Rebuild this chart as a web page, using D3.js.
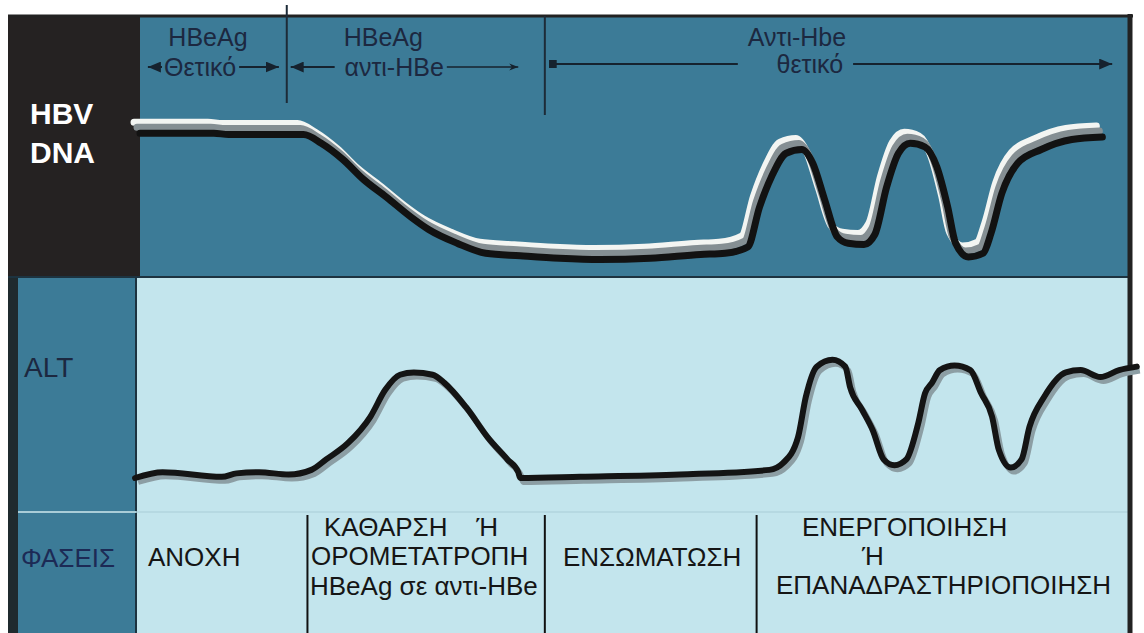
<!DOCTYPE html>
<html>
<head>
<meta charset="utf-8">
<script src="https://cdnjs.cloudflare.com/ajax/libs/d3/7.8.5/d3.min.js"></script>
<style>
body{margin:0;background:#fff}
svg{display:block}
text{font-family:"Liberation Sans",Arial,sans-serif}
</style>
</head>
<body>
<div id="chart"></div>
<script>
// time axis runs 0..100 across the panels, levels 0..100 (relative)
var hbvTime  = [0, 7.5, 9.0, 16.6, 18.4, 20.6, 22.7, 25.0, 27.5, 29.3, 32.2, 35.1, 38.6, 42.6, 46.7, 51.8, 56.9, 59.4,
                61.7, 62.9, 64.1, 65.6, 67.2, 68.3, 69.5, 70.8, 71.9, 73.5, 74.6, 75.8, 77.0, 78.2, 79.7, 80.9, 82.0,
                82.8, 84.1, 85.6, 86.4, 87.5, 89.1, 91.5, 94.6, 97.7];
var hbvLevel = [103, 103, 102, 102, 95, 82, 66, 52, 36, 26, 15, 7, 5, 3, 2, 3, 6, 7,
                12, 44, 68, 87, 90, 79, 50, 20, 15, 14, 22, 60, 87, 95, 92, 76, 44,
                15, 4, 7, 23, 55, 79, 90, 98, 100];

var altTime  = [-0.5, 2.3, 8.3, 9.8, 12.1, 15.1, 17.4, 18.9, 21.1, 23.4, 24.9, 26.4, 27.8, 29.7, 30.9, 33.1, 35.3, 37.3, 38.4,
                38.6, 44.7, 54.8, 63.9, 65.3, 66.8, 67.6, 68.7, 70.3, 71.6, 72.1, 73.3, 74.4, 75.5, 76.6, 77.8, 79.0, 79.7,
                80.4, 81.2, 82.7, 84.3, 85.4, 86.5, 87.2, 88.4, 89.5, 90.3, 91.8, 94.0, 95.5, 97.5, 99.4, 101.2];
var altLevel = [0, 5, 1, 4, 5, 3, 7, 16, 30, 53, 76, 89, 91, 89, 82, 61, 35, 16, 5,
                0, 1, 3, 7, 13, 35, 70, 96, 102, 96, 78, 59, 41, 16, 11, 16, 47, 73,
                82, 93, 97, 93, 73, 53, 24, 9, 16, 44, 70, 91, 93, 87, 93, 96];

// serology segments across the top
var seroStart  = [0, 14.9, 41.1];
var seroTop    = ["HBeAg", "HBeAg", "Αντι-Hbe"];
var seroBottom = ["Θετικό", "αντι-HBe", "θετικό"];

// phases across the bottom
var phaseStart = [0, 17.0, 41.1, 62.6];
var phaseNames = [["ΑΝΟΧΗ"],
                  ["ΚΑΘΑΡΣΗ    Ή", "ΟΡΟΜΕΤΑΤΡΟΠΗ", "HBeAg σε αντι-HBe"],
                  ["ΕΝΣΩΜΑΤΩΣΗ"],
                  ["ΕΝΕΡΓΟΠΟΙΗΣΗ", "Ή", "ΕΠΑΝΑΔΡΑΣΤΗΡΙΟΠΟΙΗΣΗ"]];

var rowLabels = [["HBV", "DNA"], ["ALT"], ["ΦΑΣΕΙΣ"]];

var W = 1144, H = 633;
var dark = "#3c7b97", light = "#c3e5ed", ink = "#1c2840";

var svg = d3.select("#chart").append("svg")
    .attr("width", W).attr("height", H);

var x = d3.scaleLinear().domain([0, 100]).range([140, 1125]);
var yHbv = d3.scaleLinear().domain([0, 100]).range([262, 137]);
var yAlt = d3.scaleLinear().domain([0, 100]).range([478, 362]);

// panels
svg.append("rect").attr("x", 8).attr("y", 16).attr("width", 132).attr("height", 261).attr("fill", "#252222");
svg.append("rect").attr("x", 140).attr("y", 16).attr("width", 988).attr("height", 261).attr("fill", dark);
svg.append("rect").attr("x", 8).attr("y", 277).attr("width", 10).attr("height", 356).attr("fill", "#1f2a2e");
svg.append("rect").attr("x", 18).attr("y", 277).attr("width", 118).attr("height", 356).attr("fill", dark);
svg.append("rect").attr("x", 136).attr("y", 277).attr("width", 992).attr("height", 356).attr("fill", light);

svg.append("line").attr("x1", 136).attr("x2", 136).attr("y1", 277).attr("y2", 633)
    .attr("stroke", "#1d3340").attr("stroke-width", 2);
svg.append("line").attr("x1", 8).attr("x2", 1133).attr("y1", 16).attr("y2", 16)
    .attr("stroke", "#222").attr("stroke-width", 3);
svg.append("line").attr("x1", 8).attr("x2", 1130).attr("y1", 277).attr("y2", 277)
    .attr("stroke", "#1d3340").attr("stroke-width", 2);
svg.append("line").attr("x1", 18).attr("x2", 136).attr("y1", 512).attr("y2", 512)
    .attr("stroke", "#a9cdd8").attr("stroke-width", 2);
svg.append("line").attr("x1", 136).attr("x2", 1128).attr("y1", 512).attr("y2", 512)
    .attr("stroke", "#b2d5de").attr("stroke-width", 1.5);
svg.append("line").attr("x1", 1130).attr("x2", 1130).attr("y1", 14).attr("y2", 633)
    .attr("stroke", "#222").attr("stroke-width", 5);

// row labels
var hl = svg.append("g").attr("font-weight", "bold").attr("font-size", 30).attr("fill", "#fff");
hl.selectAll("text").data(rowLabels[0]).join("text")
    .attr("x", 30).attr("y", function(d, i){ return 124 + i * 39; })
    .text(function(d){ return d; });
svg.append("text").attr("x", 24).attr("y", 377).attr("font-size", 28).attr("fill", ink).text(rowLabels[1][0]);
svg.append("text").attr("x", 21).attr("y", 567).attr("font-size", 26).attr("fill", "#1c2a55").text(rowLabels[2][0]);

// markers
var defs = svg.append("defs");
defs.append("marker").attr("id", "tri").attr("viewBox", "0 0 12 10")
    .attr("refX", 12).attr("refY", 5).attr("markerWidth", 13).attr("markerHeight", 11)
    .attr("markerUnits", "userSpaceOnUse").attr("orient", "auto-start-reverse")
    .append("path").attr("d", "M0,0L12,5L0,10Z").attr("fill", "#16222e");
defs.append("marker").attr("id", "thin").attr("viewBox", "0 0 10 10")
    .attr("refX", 10).attr("refY", 5).attr("markerWidth", 10).attr("markerHeight", 9)
    .attr("markerUnits", "userSpaceOnUse").attr("orient", "auto")
    .append("path").attr("d", "M0,1L10,5L0,9L3,5Z").attr("fill", "#16222e");
defs.append("marker").attr("id", "sq").attr("viewBox", "0 0 8 8")
    .attr("refX", 4).attr("refY", 4).attr("markerWidth", 8).attr("markerHeight", 8)
    .attr("markerUnits", "userSpaceOnUse")
    .append("rect").attr("width", 8).attr("height", 8).attr("fill", "#16222e");

// serology dividers
svg.append("line").attr("x1", x(seroStart[1])).attr("x2", x(seroStart[1])).attr("y1", 5).attr("y2", 103)
    .attr("stroke", "#1d2b38").attr("stroke-width", 2);
svg.append("line").attr("x1", x(seroStart[2])).attr("x2", x(seroStart[2])).attr("y1", 16).attr("y2", 115)
    .attr("stroke", "#1d2b38").attr("stroke-width", 2);

// serology labels and arrows
var topCx = [6.9, 24.7, 66.7], botCx = [6.1, 25.8, 68.0];
var arrowEnd = [14.1, 38.4, 98.7], arrowStart = [0.8, 15.3, 41.9];
var arrowY = [67, 67, 64], leftGap = [2, 9, 10];
var sero = svg.append("g").attr("font-size", 25).attr("fill", ink).attr("text-anchor", "middle");
seroTop.forEach(function(t, i){
    var a = sero.append("text").attr("x", x(topCx[i])).attr("y", 46).text(t);
    var b = sero.append("text").attr("x", x(botCx[i])).attr("y", arrowY[i] + 9).text(seroBottom[i]);
    var la = a.node().getComputedTextLength(), lb = b.node().getComputedTextLength();
    var left = Math.min(x(topCx[i]) - la / 2, x(botCx[i]) - lb / 2) - leftGap[i];
    var right = x(botCx[i]) + lb / 2 + (i == 2 ? 10 : 3);
    svg.append("line").attr("x1", x(arrowStart[i])).attr("x2", left).attr("y1", arrowY[i]).attr("y2", arrowY[i])
        .attr("stroke", "#16222e").attr("stroke-width", 2)
        .attr("marker-start", i == 2 ? "url(#sq)" : "url(#tri)");
    svg.append("line").attr("x1", right).attr("x2", x(arrowEnd[i])).attr("y1", arrowY[i]).attr("y2", arrowY[i])
        .attr("stroke", "#16222e").attr("stroke-width", i == 1 ? 1.5 : 2)
        .attr("marker-end", i == 1 ? "url(#thin)" : "url(#tri)");
});

// HBV DNA curve: white, grey and black strands
var hbv = hbvTime.map(function(t, i){ return [t, hbvLevel[i]]; });
var hbvLine = d3.line().x(function(d){ return x(d[0]); }).y(function(d){ return yHbv(d[1]); })
    .curve(d3.curveMonotoneX);
var strands = [{dx: -6, dy: -11, c: "#f3f5f2"}, {dx: -3, dy: -6, c: "#858f93"}, {dx: 0, dy: 0, c: "#121212"}];
svg.append("g").selectAll("path").data(strands).join("path")
    .attr("transform", function(s){ return "translate(" + s.dx + "," + s.dy + ")"; })
    .attr("d", hbvLine(hbv))
    .attr("fill", "none").attr("stroke", function(s){ return s.c; })
    .attr("stroke-width", 7).attr("stroke-linejoin", "round").attr("stroke-linecap", "round");

// ALT curve with shadow
var alt = altTime.map(function(t, i){ return [t, altLevel[i]]; });
var altLine = d3.line().x(function(d){ return x(d[0]); }).y(function(d){ return yAlt(d[1]); })
    .curve(d3.curveMonotoneX);
svg.append("path").attr("d", altLine(alt)).attr("transform", "translate(3,4)")
    .attr("fill", "none").attr("stroke", "#8c9ea4").attr("stroke-width", 6).attr("stroke-linejoin", "round");
svg.append("path").attr("d", altLine(alt))
    .attr("fill", "none").attr("stroke", "#141414").attr("stroke-width", 6)
    .attr("stroke-linejoin", "round").attr("stroke-linecap", "round");

// phase dividers and names
phaseStart.slice(1).forEach(function(p){
    svg.append("line").attr("x1", x(p)).attr("x2", x(p)).attr("y1", 515).attr("y2", 633)
        .attr("stroke", "#111").attr("stroke-width", 2);
});
var lineX = [[148], [324, 311, 310], [563], [802, 862, 776]];
var lineY = [[566], [536, 565, 595], [566], [536, 565, 594]];
var ph = svg.append("g").attr("font-size", 26).attr("fill", "#151515");
phaseNames.forEach(function(lines, i){
    lines.forEach(function(s, j){
        ph.append("text").attr("x", lineX[i][j]).attr("y", lineY[i][j])
            .text(s.replace(/ {2,}/g, function(m){ return m.replace(/ /g, "\u00a0"); }));
    });
});
</script>
</body>
</html>
